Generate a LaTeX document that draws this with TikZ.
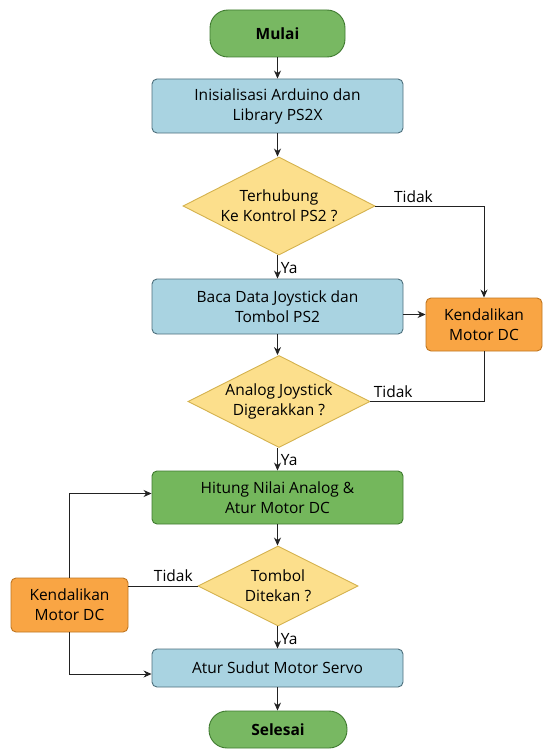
\documentclass[tikz,border=0pt]{standalone}
\usepackage{fontspec}
\setmainfont{Open Sans}
\usetikzlibrary{shapes.geometric,arrows.meta}
\definecolor{termfill}{HTML}{78B862}
\definecolor{termdraw}{HTML}{3F7A2F}
\definecolor{procfill}{HTML}{A9D3E1}
\definecolor{procdraw}{HTML}{4D6F7C}
\definecolor{decfill}{HTML}{FCDF8C}
\definecolor{decdraw}{HTML}{D4B24E}
\definecolor{orfill}{HTML}{F9A544}
\definecolor{ordraw}{HTML}{BF7520}
\definecolor{hitfill}{HTML}{74B75C}
\definecolor{linecol}{HTML}{222222}
\begin{document}
\begin{tikzpicture}[x=1pt,y=-1pt,
  font=\fontsize{15.5}{20}\selectfont,
  term/.style={draw=termdraw,fill=termfill,line width=0.9pt,rounded corners=18pt,minimum width=135pt,minimum height=47pt,inner sep=0pt},
  proc/.style={draw=procdraw,fill=procfill,line width=0.9pt,rounded corners=5pt,minimum width=251pt,inner sep=0pt,align=center},
  hitbox/.style={proc,draw=termdraw,fill=hitfill},
  orbox/.style={draw=ordraw,fill=orfill,line width=0.9pt,rounded corners=5pt,inner sep=0pt,align=center},
  dec/.style={diamond,draw=decdraw,fill=decfill,line width=0.9pt,shape aspect=2,inner sep=0pt,align=center},
  arr/.style={draw=linecol,line width=0.8pt,-{Stealth[length=8pt,width=7pt]}},
  ln/.style={draw=linecol,line width=0.8pt},
  lbl/.style={inner sep=1pt}]
\useasboundingbox (0,0) rectangle (543,749);

\node[term] (start) at (277.5,33.5) {\textbf{Mulai}};
\node[proc,minimum height=54pt] (init) at (277.5,106) {Inisialisasi Arduino dan\\Library PS2X};
\node[dec,minimum width=192pt,minimum height=98pt] (d1) at (279,206) {Terhubung\\Ke Kontrol PS2 ?};
\node[proc,minimum height=55pt] (baca) at (277.5,306.5) {Baca Data Joystick dan\\Tombol PS2};
\node[orbox,minimum width=116pt,minimum height=53pt] (kr) at (484,324.5) {Kendalikan\\Motor DC};
\node[dec,minimum width=182pt,minimum height=92pt] (d2) at (279,401.5) {Analog Joystick\\Digerakkan ?};
\node[hitbox,minimum height=53pt] (hit) at (277.5,497.5) {Hitung Nilai Analog \&\\Atur Motor DC};
\node[dec,minimum width=160pt,minimum height=80pt] (d3) at (278,586) {Tombol\\Ditekan ?};
\node[orbox,minimum width=117pt,minimum height=54pt] (kl) at (69.5,605) {Kendalikan\\Motor DC};
\node[proc,minimum height=38pt] (atur) at (277.5,668) {Atur Sudut Motor Servo};
\node[term,minimum width=138pt,minimum height=37pt] (end) at (278,729.5) {\textbf{Selesai}};

\draw[arr] (start.south) -- (start.south |- init.north);
\draw[arr] (init.south) -- (init.south |- d1.north);
\draw[arr] (d1.south -| init.south) -- node[lbl,right=2pt,pos=0.55] {Ya} (init.south |- baca.north);
\draw[arr] (d1.east) -- node[lbl,above=2pt,pos=0.35] {Tidak} (kr.north |- d1.east) -- (kr.north);
\coordinate (bo) at ([yshift=-8pt]baca.east);
\draw[arr] (bo) -- (bo -| kr.west);
\draw[arr] (baca.south) -- (baca.south |- d2.north);
\draw[ln] (d2.east) -- node[lbl,above=2pt,pos=0.2] {Tidak} (kr.south |- d2.east) -- (kr.south);
\draw[arr] (d2.south -| hit.north) -- node[lbl,right=2pt,pos=0.55] {Ya} (hit.north);
\draw[arr] (hit.south) -- (hit.south |- d3.north);
\draw[arr] (d3.south -| atur.north) -- node[lbl,right=2pt,pos=0.55] {Ya} (atur.north);
\draw[ln] (d3.west) -- node[lbl,above=3pt,pos=0.35] {Tidak} (kl.east |- d3.west);
\coordinate (hl) at ([yshift=4pt]hit.west);
\draw[arr] (kl.north) |- (hl);
\coordinate (al) at ([yshift=-6pt]atur.west);
\draw[arr] (kl.south) |- (al);
\draw[arr] (atur.south) -- (atur.south |- end.north);
\end{tikzpicture}
\end{document}
